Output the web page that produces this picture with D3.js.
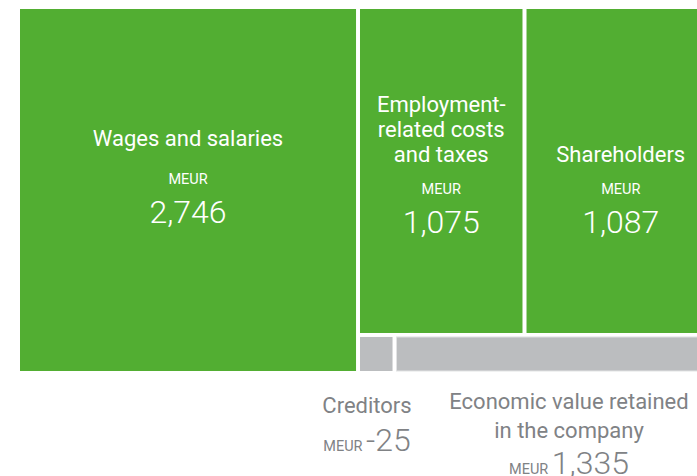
<!DOCTYPE html>
<html>
<head>
<meta charset="utf-8">
<script src="https://cdn.jsdelivr.net/npm/d3@7"></script>
<style>
  html, body { margin: 0; padding: 0; background: #ffffff; }
  svg { display: block; }
  text { font-family: Roboto, "Open Sans", sans-serif; }
</style>
</head>
<body>
<svg id="chart" width="697" height="476"></svg>
<script>
// ---- data ----
const categories = [
  ["Wages and salaries"],
  ["Employment-", "related costs", "and taxes"],
  ["Shareholders"],
  ["Creditors"],
  ["Economic value retained", "in the company"]
];
const values = [2746, 1075, 1087, -25, 1335];
const groups = ["inside", "inside", "inside", "below", "below"];
const unit = "MEUR";

// ---- layout (fractions of the plotting frame) ----
const cells = [
  {x0: 0.0000, x1: 0.4835, y0: 0.000, y1: 1.000},
  {x0: 0.4892, x1: 0.7230, y0: 0.000, y1: 0.895},
  {x0: 0.7288, x1: 1.0000, y0: 0.000, y1: 0.895},
  {x0: 0.4892, x1: 0.5360, y0: 0.906, y1: 1.000},
  {x0: 0.5417, x1: 1.0000, y0: 0.906, y1: 1.000}
];
// label anchor: value baseline (fraction of frame height) and label gap
const labelAnchor = [
  {vy: 0.591, gap: 38},
  {vy: 0.619, gap: 32},
  {vy: 0.619, gap: 32}
];

const svg = d3.select("#chart");
const x = d3.scaleLinear().domain([0, 1]).range([20, 715]);
const y = d3.scaleLinear().domain([0, 1]).range([9, 371]);
const fmt = d3.format(",");

const green = "#52ae32", grey = "#bbbdbf", greyText = "#808285";

const nodes = categories.map((c, i) => ({
  lines: c, value: values[i], group: groups[i], cell: cells[i]
}));

svg.selectAll("rect.tile")
  .data(nodes)
  .join("rect")
  .attr("class", "tile")
  .attr("x", d => x(d.cell.x0))
  .attr("y", d => y(d.cell.y0))
  .attr("width", d => x(d.cell.x1) - x(d.cell.x0))
  .attr("height", d => y(d.cell.y1) - y(d.cell.y0))
  .attr("fill", d => d.group === "inside" ? green : grey)
  .attr("stroke", (d, i) => i === 4 ? "#e2e3e4" : "none")
  .attr("stroke-width", 1);

// labels inside green tiles
const inside = nodes.filter(d => d.group === "inside");
const lineH = 25;
inside.forEach((d, i) => {
  const cx = (x(d.cell.x0) + x(d.cell.x1)) / 2;
  const vy = y(labelAnchor[i].vy);
  const my = vy - 39;
  const ly = my - labelAnchor[i].gap;
  const n = d.lines.length;
  const g = svg.append("g").attr("fill", "#ffffff").attr("text-anchor", "middle");
  d.lines.forEach((l, j) => {
    g.append("text").attr("x", cx).attr("y", ly - (n - 1 - j) * lineH)
      .attr("font-size", 22).text(l);
  });
  g.append("text").attr("x", cx).attr("y", my)
    .attr("font-size", 14.5).text(unit);
  g.append("text").attr("x", cx).attr("y", vy)
    .attr("font-size", 32).attr("font-weight", 300).text(fmt(d.value));
});

// labels below grey tiles
const below = nodes.filter(d => d.group === "below");
const belowCx = [367, 569];
const belowTop = [413, 409];
below.forEach((d, i) => {
  const g = svg.append("g").attr("fill", greyText).attr("text-anchor", "middle");
  d.lines.forEach((l, j) => {
    g.append("text").attr("x", belowCx[i]).attr("y", belowTop[i] + j * 29)
      .attr("font-size", 22).text(l);
  });
  const vy = belowTop[i] + (d.lines.length - 1) * 29 + (d.lines.length > 1 ? 36 : 38);
  const t = g.append("text").attr("x", belowCx[i]).attr("y", vy);
  t.append("tspan").attr("font-size", 14.5).text(unit + " ");
  t.append("tspan").attr("font-size", 32).attr("font-weight", 300)
    .text(d.value < 0 ? "-" + fmt(-d.value) : fmt(d.value));
});
</script>
</body>
</html>
